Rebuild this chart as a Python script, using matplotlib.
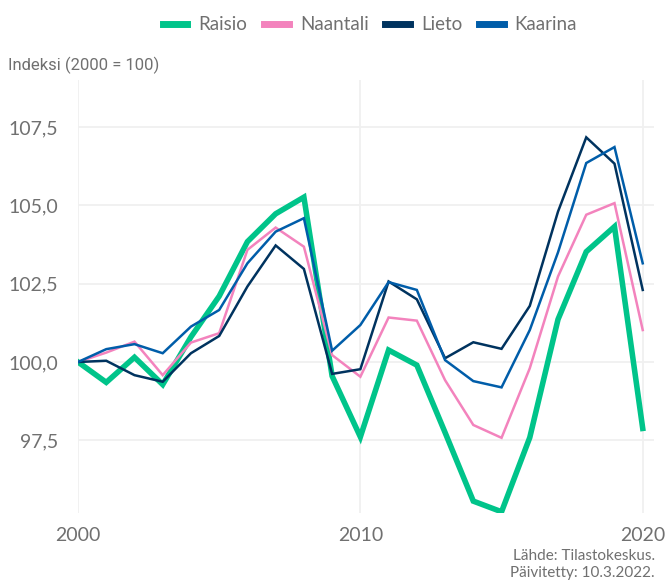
import matplotlib
matplotlib.use("Agg")
import matplotlib.pyplot as plt
from matplotlib.ticker import FuncFormatter

years = list(range(2000, 2021))
raisio = [100.0, 99.35, 100.15, 99.28, 100.8, 102.1, 103.84, 104.73, 105.26, 99.55,
          97.61, 100.38, 99.9, 97.75, 95.56, 95.22, 97.59, 101.36, 103.52, 104.32, 97.88]
naantali = [100.0, 100.3, 100.65, 99.58, 100.62, 100.92, 103.58, 104.29, 103.68, 100.22,
            99.53, 101.42, 101.32, 99.42, 97.99, 97.58, 99.8, 102.73, 104.7, 105.07, 101.02]
lieto = [100.0, 100.04, 99.58, 99.37, 100.28, 100.83, 102.41, 103.72, 102.97, 99.62,
         99.77, 102.57, 102.0, 100.12, 100.63, 100.42, 101.79, 104.8, 107.17, 106.33, 102.3]
kaarina = [100.0, 100.41, 100.57, 100.28, 101.13, 101.66, 103.15, 104.16, 104.59, 100.36,
           101.18, 102.55, 102.3, 100.06, 99.39, 99.19, 101.02, 103.5, 106.35, 106.86, 103.15]

names = ["Raisio", "Naantali", "Lieto", "Kaarina"]
series = [raisio, naantali, lieto, kaarina]
colors = ["#00C48A", "#F383BD", "#00335F", "#005DA9"]
widths = [4.0, 1.8, 1.8, 1.8]

xticks = [2000, 2010, 2020]
yticks = [97.5, 100.0, 102.5, 105.0, 107.5]

plt.rcParams['font.family'] = ['Lato', 'DejaVu Sans']
txt = "#707070"

fig = plt.figure(figsize=(6.69, 5.81), dpi=100)
ax = fig.add_axes([0.1166, 0.117, 0.861, 0.7453])

for n, s, c, w in zip(names, series, colors, widths):
    ax.plot(years, s, color=c, lw=w, label=n, solid_joinstyle='miter', zorder=3)

ax.set_xlim(2000, 2020.4)
ax.set_ylim(95.18, 109.0)
ax.set_xticks(xticks)
ax.set_yticks(yticks)
ax.yaxis.set_major_formatter(FuncFormatter(lambda v, p: f"{v:.1f}".replace('.', ',')))
ax.grid(True, color="#F0F0F0", lw=1.3, zorder=0)
for sp in ax.spines.values():
    sp.set_visible(False)
ax.tick_params(length=0, labelsize=14, labelcolor=txt, pad=10)
ax.tick_params(axis='y', pad=14)

fig.text(8/669, 1-65/581, "Indeksi (2000 = 100)", fontsize=12, color=txt,
         family=['Roboto', 'DejaVu Sans'], va='center', ha='left')

leg = fig.legend(loc='center', bbox_to_anchor=(370/669, 1-24/581), ncol=4, frameon=False,
                 prop={'size': 13.5}, handlelength=1.3, handleheight=0.5,
                 handletextpad=0.6, columnspacing=0.9, labelcolor=txt)
for h in leg.legend_handles:
    h.set_linewidth(5)

fig.text(655/669, 1-556/581, "Lähde: Tilastokeskus.", fontsize=11, color=txt, ha='right',
         va='center')
fig.text(655/669, 1-573/581, "Päivitetty: 10.3.2022.", fontsize=11, color=txt, ha='right',
         va='center')

fig.savefig("out.png", dpi=100)
